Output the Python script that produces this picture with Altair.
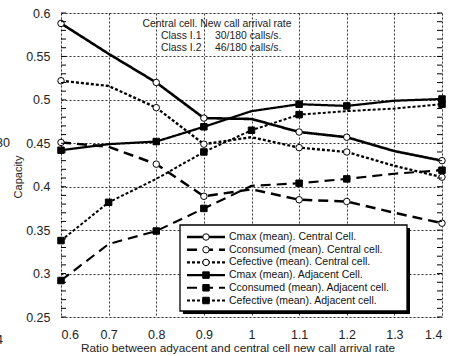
import altair as alt
import pandas as pd

# ---- data ----
ratio = [0.6, 0.7, 0.8, 0.9, 1.0, 1.1, 1.2, 1.3, 1.4]
series_names = [
    "Cmax (mean). Central Cell.",
    "Cconsumed (mean). Central cell.",
    "Cefective (mean). Central cell.",
    "Cmax (mean). Adjacent Cell.",
    "Cconsumed (mean). Adjacent cell.",
    "Cefective (mean). Adjacent cell.",
]
cmax_central = [0.588, 0.553, 0.520, 0.479, 0.478, 0.463, 0.457, 0.441, 0.430]
cconsumed_central = [0.451, 0.446, 0.426, 0.389, 0.397, 0.385, 0.383, 0.370, 0.358]
cefective_central = [0.522, 0.516, 0.491, 0.449, 0.457, 0.445, 0.440, 0.424, 0.411]
cmax_adjacent = [0.442, 0.449, 0.452, 0.469, 0.487, 0.495, 0.493, 0.499, 0.501]
cconsumed_adjacent = [0.292, 0.334, 0.349, 0.375, 0.401, 0.404, 0.409, 0.415, 0.419]
cefective_adjacent = [0.338, 0.382, 0.409, 0.440, 0.465, 0.483, 0.487, 0.490, 0.495]
markers_common = [0.6, 0.8, 0.9, 1.1, 1.2, 1.4]
markers_cef_adj = [0.6, 0.7, 0.9, 1.0, 1.1, 1.4]

x_ticks = [0.6, 0.7, 0.8, 0.9, 1.0, 1.1, 1.2, 1.3, 1.4]
y_ticks = [0.25, 0.3, 0.35, 0.4, 0.45, 0.5, 0.55, 0.6]
annotation_title = "Central cell. New call arrival rate"
annotation_classes = ["Class I.1", "Class I.2"]
annotation_rates = ["30/180 calls/s.", "46/180 calls/s."]
x_title = "Ratio between adyacent and central cell new call arrival rate"
y_title = "Capacity"

all_values = [cmax_central, cconsumed_central, cefective_central,
              cmax_adjacent, cconsumed_adjacent, cefective_adjacent]
all_markers = [markers_common] * 5 + [markers_cef_adj]

rows = []
for name, vals, mk in zip(series_names, all_values, all_markers):
    for x, v in zip(ratio, vals):
        rows.append({"series": name, "x": x, "v": v,
                     "marker": any(abs(x - m) < 1e-9 for m in mk)})
df = pd.DataFrame(rows)

# ---- layout ----
W, H = 381, 304
PL, PT = 61, 13
XMIN, XMAX, YMIN, YMAX = 0.6, 1.4, 0.25, 0.6
FONT = "Liberation Sans"


def px2x(px):
    return XMIN + (px - PL) * (XMAX - XMIN) / W


def px2y(py):
    return YMAX - (py - PT) * (YMAX - YMIN) / H


xs = alt.Scale(domain=[XMIN, XMAX], nice=False, zero=False)
ys = alt.Scale(domain=[YMIN, YMAX], nice=False, zero=False)

dash_scale = alt.Scale(domain=series_names,
                       range=[[1, 0], [10, 6], [3, 2], [1, 0], [10, 6], [3, 2]])
width_scale = alt.Scale(domain=series_names, range=[2.6, 2, 2, 2.6, 2, 2])
shape_scale = alt.Scale(domain=series_names,
                        range=["circle"] * 3 + ["square"] * 3)
fill_scale = alt.Scale(domain=series_names,
                       range=["white"] * 3 + ["black"] * 3)

x_enc = alt.X("x:Q", scale=xs,
              axis=alt.Axis(values=x_ticks, format="~g", title=None, grid=True,
                            gridDash=[2, 2], gridColor="#333", gridWidth=1,
                            ticks=False, domain=False, labelFontSize=12.5,
                            labelPadding=11, labelColor="#222", labelFont=FONT))
y_enc = alt.Y("v:Q", scale=ys,
              axis=alt.Axis(values=y_ticks, format=".2~f", title=None, grid=True,
                            gridDash=[2, 2], gridColor="#333", gridWidth=1,
                            ticks=False, domain=False, labelFontSize=12.5,
                            labelPadding=11, labelColor="#222", labelFont=FONT))

lines = alt.Chart(df).mark_line(color="black").encode(
    x=x_enc, y=y_enc,
    detail="series:N",
    strokeDash=alt.StrokeDash("series:N", scale=dash_scale, legend=None),
    strokeWidth=alt.StrokeWidth("series:N", scale=width_scale, legend=None),
    order="x:Q",
)
points = alt.Chart(df).transform_filter(alt.datum.marker).mark_point(
    size=42, stroke="black", strokeWidth=1, opacity=1, filled=False
).encode(
    x=alt.X("x:Q", scale=xs), y=alt.Y("v:Q", scale=ys),
    shape=alt.Shape("series:N", scale=shape_scale, legend=None),
    fill=alt.Fill("series:N", scale=fill_scale, legend=None),
)

# minor ticks (inside, left and right)
minor_vals = [round(0.25 + 0.01 * i, 2) for i in range(36)]
tick_df = pd.DataFrame({"v": minor_vals})
ticks_left = alt.Chart(tick_df).mark_rule(color="black", strokeWidth=1).encode(
    y=alt.Y("v:Q", scale=ys), x=alt.value(0), x2=alt.value(5))
ticks_right = alt.Chart(tick_df).mark_rule(color="black", strokeWidth=1).encode(
    y=alt.Y("v:Q", scale=ys), x=alt.value(W - 5), x2=alt.value(W))

# legend box
box_df = pd.DataFrame({"x": [px2x(180)], "x2": [px2x(407)],
                       "v": [px2y(225)], "v2": [px2y(311)]})
shadow_df = pd.DataFrame({"x": [px2x(183)], "x2": [px2x(410)],
                          "v": [px2y(228)], "v2": [px2y(314)]})
shadow = alt.Chart(shadow_df).mark_rect(color="black").encode(
    x=alt.X("x:Q", scale=xs), x2="x2:Q", y=alt.Y("v:Q", scale=ys), y2="v2:Q")
box = alt.Chart(box_df).mark_rect(fill="white", stroke="black", strokeWidth=1.3).encode(
    x=alt.X("x:Q", scale=xs), x2="x2:Q", y=alt.Y("v:Q", scale=ys), y2="v2:Q")

leg_rows_y = [237, 249.7, 262.4, 275.1, 287.8, 300.5]
leg_line = []
leg_pt = []
for name, py in zip(series_names, leg_rows_y):
    leg_line.append({"series": name, "x": px2x(187), "v": px2y(py)})
    leg_line.append({"series": name, "x": px2x(225), "v": px2y(py)})
    leg_pt.append({"series": name, "x": px2x(206), "v": px2y(py),
                   "tx": px2x(229)})
leg_line_df = pd.DataFrame(leg_line)
leg_pt_df = pd.DataFrame(leg_pt)

leg_lines = alt.Chart(leg_line_df).mark_line(color="black").encode(
    x=alt.X("x:Q", scale=xs), y=alt.Y("v:Q", scale=ys), detail="series:N",
    strokeDash=alt.StrokeDash("series:N", scale=dash_scale, legend=None),
    strokeWidth=alt.StrokeWidth("series:N", scale=width_scale, legend=None),
)
leg_points = alt.Chart(leg_pt_df).mark_point(
    size=42, stroke="black", strokeWidth=1, opacity=1, filled=False
).encode(
    x=alt.X("x:Q", scale=xs), y=alt.Y("v:Q", scale=ys),
    shape=alt.Shape("series:N", scale=shape_scale, legend=None),
    fill=alt.Fill("series:N", scale=fill_scale, legend=None),
)
leg_text = alt.Chart(leg_pt_df).mark_text(
    align="left", baseline="middle", fontSize=10.5, font=FONT, color="#111"
).encode(x=alt.X("tx:Q", scale=xs), y=alt.Y("v:Q", scale=ys), text="series:N")

# annotations
one = pd.DataFrame({"a": [0]})


def txt(text, x, y, align="left", size=10.4, angle=0, color="#222"):
    kw = dict(text=text, align=align, baseline="middle", fontSize=size,
              font=FONT, color=color)
    if angle:
        kw["angle"] = angle
    return alt.Chart(one).mark_text(**kw).encode(x=alt.value(x), y=alt.value(y))


ann = [
    txt(annotation_title, 217 - PL, 24 - PT, align="center"),
    txt(annotation_classes[0], 161 - PL, 36 - PT),
    txt(annotation_rates[0], 215 - PL, 36 - PT),
    txt(annotation_classes[1], 161 - PL, 48 - PT),
    txt(annotation_rates[1], 215 - PL, 48 - PT),
    txt(x_title, 238 - PL, 348 - PT, align="center", size=11.8),
    txt(y_title, 19 - PL, 177 - PT, align="center", size=11, angle=270),
    txt("30", 10 - PL, 143 - PT, align="right", size=12.5),
    txt("4", 3 - PL, 340 - PT, align="right", size=12.5),
]

chart = alt.layer(
    lines, points, ticks_left, ticks_right, shadow, box,
    leg_lines, leg_points, leg_text, *ann
).properties(
    width=W, height=H,
    padding={"left": PL, "top": PT, "right": 464 - PL - W, "bottom": 356 - PT - H},
    autosize=alt.AutoSizeParams(type="none"),
).configure_view(stroke="black", strokeWidth=1.3).configure(background="white")

chart.save("out.html", embed_options={"renderer": "svg", "actions": False})
